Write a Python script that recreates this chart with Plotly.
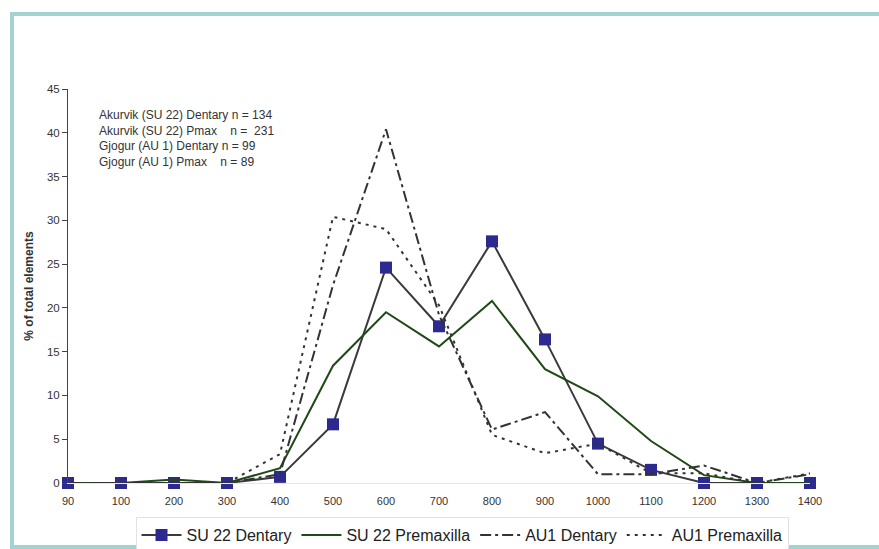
import plotly.graph_objects as go

# Length classes (category labels on the x axis)
size_classes = ["90", "100", "200", "300", "400", "500", "600", "700",
                "800", "900", "1000", "1100", "1200", "1300", "1400"]

# Percentage of total elements per size class
su22_dentary = [0, 0, 0, 0, 0.7, 6.7, 24.6, 17.9, 27.6, 16.4, 4.5, 1.5, 0, 0, 0]
su22_premaxilla = [0, 0, 0.4, 0, 1.7, 13.4, 19.5, 15.6, 20.8, 13.0, 9.9, 4.8, 0.9, 0, 0]
au1_dentary = [0, 0, 0, 0, 1.0, 22.6, 40.4, 19.2, 6.1, 8.1, 1.0, 1.0, 2.0, 0, 1.0]
au1_premaxilla = [0, 0, 0, 0, 3.3, 30.4, 29.0, 20.3, 5.5, 3.4, 4.5, 1.1, 1.1, 0, 1.1]

series_names = ["SU 22 Dentary", "SU 22 Premaxilla", "AU1 Dentary", "AU1 Premaxilla"]

sample_notes = [
    "Akurvik (SU 22) Dentary n = 134",
    "Akurvik (SU 22) Pmax\u00a0\u00a0\u00a0 n =\u00a0 231",
    "Gjogur (AU 1) Dentary n = 99",
    "Gjogur (AU 1) Pmax\u00a0\u00a0\u00a0 n = 89",
]

FONT = "Arial, 'Liberation Sans', sans-serif"
TEXT = "#333333"

fig = go.Figure()

fig.add_trace(go.Scatter(
    x=size_classes, y=su22_dentary, name=series_names[0],
    mode="lines+markers", cliponaxis=False,
    line=dict(color="#3a3a3a", width=2),
    marker=dict(symbol="square", size=12, color="#2c2a8e",
                line=dict(color="#2c2a8e", width=0)),
))
fig.add_trace(go.Scatter(
    x=size_classes, y=su22_premaxilla, name=series_names[1],
    mode="lines", cliponaxis=False,
    line=dict(color="#1f4a17", width=2),
))
fig.add_trace(go.Scatter(
    x=size_classes, y=au1_dentary, name=series_names[2],
    mode="lines", cliponaxis=False,
    line=dict(color="#333333", width=2, dash="11px,4px,3px,4px"),
))
fig.add_trace(go.Scatter(
    x=size_classes, y=au1_premaxilla, name=series_names[3],
    mode="lines", cliponaxis=False,
    line=dict(color="#333333", width=2, dash="3px,5px"),
))

# Plot area spans x 68..810 px and y 89..483 px of the 879x549 page
L, R, T, B = 68, 810, 89, 483
W, H = 879, 549
pw, ph = R - L, B - T


def px(x):
    return (x - L) / pw


def py(y):
    return (B - y) / ph


fig.add_annotation(
    xref="paper", yref="paper", x=px(97), y=py(106),
    xanchor="left", yanchor="top", align="left", showarrow=False,
    text="<br>".join(sample_notes),
    font=dict(family=FONT, size=12, color=TEXT),
)

# Teal page frame drawn as filled bars: top, left and bottom edges
FRAME = "#a3d2d2"
for x0, y0, x1, y1 in [(10, 12, 879, 16), (10, 12, 14, 549), (10, 545, 879, 549)]:
    fig.add_shape(
        type="rect", xref="paper", yref="paper",
        x0=px(x0), y0=py(y1), x1=px(x1), y1=py(y0),
        line=dict(width=0), fillcolor=FRAME, layer="below",
    )

fig.update_layout(
    width=W, height=H,
    margin=dict(l=L, r=W - R, t=T, b=H - B, pad=0, autoexpand=False),
    paper_bgcolor="white", plot_bgcolor="white",
    font=dict(family=FONT, color=TEXT, size=11),
    showlegend=True,
    legend=dict(
        orientation="h", x=px(462), xanchor="center",
        y=py(535), yanchor="middle",
        font=dict(family=FONT, size=16, color="#222222"),
        bgcolor="white", bordercolor="#e2e2e2", borderwidth=1,
        itemwidth=40, tracegroupgap=0,
    ),
    xaxis=dict(
        type="category", range=[0, len(size_classes) - 1],
        showgrid=False, zeroline=False,
        showline=True, linecolor="#e6e6e6", linewidth=1,
        ticks="", tickfont=dict(family=FONT, size=11, color=TEXT),
        ticklabelstandoff=8,
    ),
    yaxis=dict(
        range=[0, 45], dtick=5, tick0=0,
        showgrid=False, zeroline=False,
        showline=True, linecolor="#444444", linewidth=1,
        ticks="outside", ticklen=5, tickcolor="#444444",
        tickfont=dict(family=FONT, size=11.5, color=TEXT),
        title=dict(text="<b>% of total elements</b>",
                   font=dict(family=FONT, size=12, color=TEXT), standoff=10),
    ),
)

fig.write_html("out.html")
